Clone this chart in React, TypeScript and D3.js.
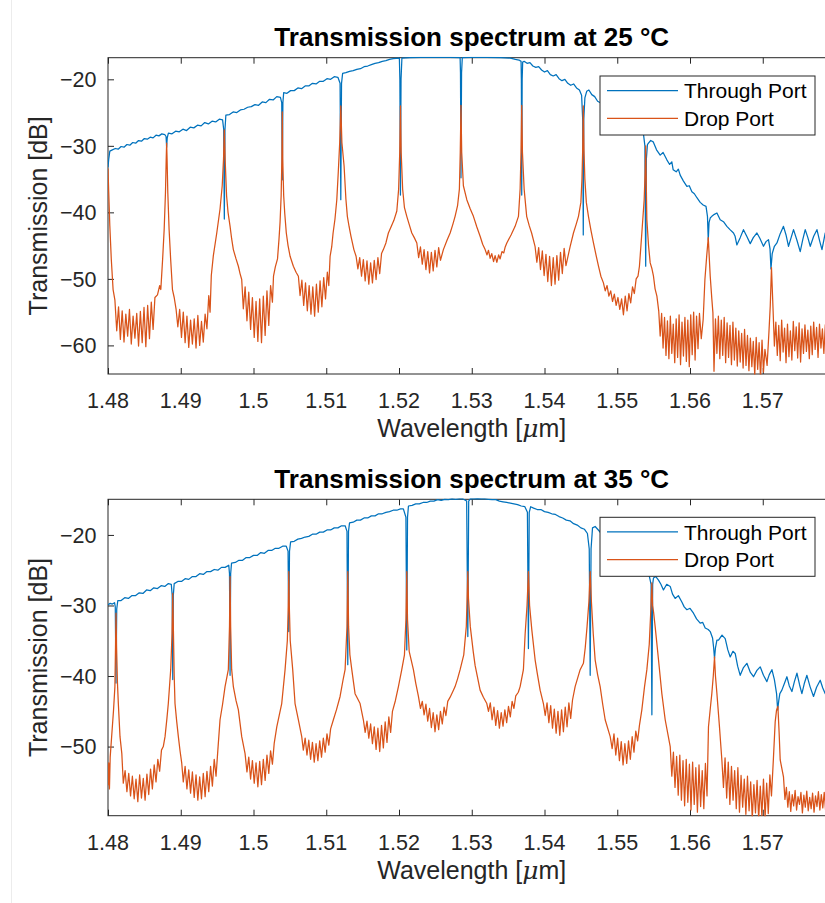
import React, { useRef, useEffect } from 'react';
import * as d3 from 'd3';

const BLUE = '#0072BD';
const ORANGE = '#D95319';
const AXIS = '#262626';
const FONT = '"Liberation Sans", Arial, Helvetica, sans-serif';

// wavelengths are stored in nm, the axis shows µm
const xTicks = [1480, 1490, 1500, 1510, 1520, 1530, 1540, 1550, 1560, 1570, 1580];
const xTickLabels = [1480, 1490, 1500, 1510, 1520, 1530, 1540, 1550, 1560, 1570]; // 1.58 lies outside the shot
const yTicks25 = [-60, -50, -40, -30, -20];
const yTicks35 = [-50, -40, -30, -20];
const legendLabels = ['Through Port', 'Drop Port'];

// ---- 25 °C ----
const through25 = [
  [1480.0,-33.2],[1480.1,-32],[1480.25,-30.8],[1480.6,-30.6],[1481.0,-30.4],[1481.4,-30.5],[1481.8,-30.1],[1482.2,-30.2],
  [1482.6,-29.8],[1483.0,-29.9],[1483.4,-29.5],[1483.8,-29.6],[1484.2,-29.2],[1484.6,-29.3],[1485.0,-28.9],[1485.4,-29.0],
  [1485.8,-28.7],[1486.2,-28.8],[1486.6,-28.4],[1487.0,-28.5],[1487.4,-28.2],[1487.8,-28.3],[1487.98,-28.6],[1488.06,-30.2],
  [1488.14,-28.8],[1488.3,-28.1],[1488.8,-28.2],[1489.3,-27.8],[1489.8,-27.9],[1490.3,-27.5],[1490.8,-27.7],[1491.3,-27.2],
  [1491.8,-27.3],[1492.3,-26.9],[1492.8,-27.0],[1493.3,-26.5],[1493.8,-26.7],[1494.3,-26.3],[1494.8,-26.4],[1495.3,-26.0],
  [1495.75,-26.1],[1495.9,-27.5],[1495.99,-41],[1496.08,-27.5],[1496.2,-25.4],[1496.7,-25.3],[1497.2,-24.9],[1497.7,-25.0],
  [1498.2,-24.6],[1498.7,-24.5],[1499.2,-24.2],[1499.7,-24.1],[1500.2,-23.8],[1500.7,-23.9],[1501.2,-23.4],[1501.7,-23.5],
  [1502.2,-23.0],[1502.7,-23.1],[1503.2,-22.6],[1503.7,-22.7],[1503.88,-23.5],[1503.96,-35.1],[1504.04,-23.5],[1504.15,-22.0],
  [1504.6,-22.1],[1505.1,-21.7],[1505.6,-21.7],[1506.1,-21.3],[1506.6,-21.4],[1507.1,-21.0],[1507.6,-21.0],[1508.1,-20.6],
  [1508.6,-20.7],[1509.1,-20.3],[1509.6,-20.3],[1510.1,-19.9],[1510.6,-20.0],[1511.1,-19.6],[1511.6,-19.7],[1511.9,-20.6],
  [1512.0,-38.1],[1512.1,-20.6],[1512.25,-19.1],[1512.7,-19.0],[1513.2,-18.8],[1513.7,-18.7],[1514.2,-18.5],[1514.7,-18.4],
  [1515.2,-18.1],[1515.7,-18.0],[1516.2,-17.8],[1516.7,-17.6],[1517.2,-17.5],[1517.7,-17.3],[1518.2,-17.2],[1518.7,-17.0],
  [1519.2,-16.9],[1519.6,-16.85],[1520.05,-16.8],[1520.12,-20],[1520.2,-37.4],[1520.28,-20],[1520.4,-16.8],[1521.5,-16.75],
  [1523.0,-16.7],[1525.0,-16.7],[1527.0,-16.7],[1528.4,-16.75],[1528.45,-19],[1528.52,-34.8],[1528.6,-19],[1528.7,-16.75],
  [1530.0,-16.7],[1532.0,-16.7],[1534.0,-16.75],[1535.3,-16.8],[1536.0,-17.0],[1536.5,-17.1],[1536.78,-17.3],[1536.82,-20],
  [1536.87,-37.4],[1536.93,-20],[1537.0,-17.4],[1537.2,-17.3],[1537.6,-17.6],[1538.0,-17.5],[1538.4,-18.0],[1538.8,-18.2],
  [1539.2,-18.1],[1539.6,-18.6],[1540.0,-18.9],[1540.4,-18.7],[1540.8,-19.3],[1541.2,-19.5],[1541.6,-19.3],[1542.0,-19.9],
  [1542.4,-20.2],[1542.8,-20.0],[1543.2,-20.6],[1543.6,-20.9],[1544.0,-20.7],[1544.4,-21.3],[1544.8,-21.6],[1545.1,-22.4],
  [1545.25,-26],[1545.33,-43.4],[1545.4,-26],[1545.55,-22.8],[1545.8,-21.8],[1546.1,-21.6],[1546.5,-22.3],[1546.9,-22.6],
  [1547.3,-23.3],[1547.8,-23.6],[1548.3,-24.2],[1548.8,-24.6],[1549.3,-25.1],[1549.8,-25.4],[1550.3,-26.0],[1550.8,-26.3],
  [1551.3,-26.8],[1551.8,-27.0],[1552.3,-27.4],[1552.8,-27.6],[1553.3,-28.0],[1553.6,-28.2],[1553.8,-30],[1553.91,-48.1],
  [1554.0,-32],[1554.15,-29.8],[1554.29,-29.6],[1554.6,-29.2],[1554.94,-29.4],[1555.4,-30.6],[1555.9,-31.4],[1556.3,-31.0],
  [1556.82,-32.1],[1557.2,-32.8],[1557.5,-32.4],[1557.69,-33.6],[1558.1,-33.9],[1558.4,-33.5],[1558.65,-34.4],[1559.1,-35.3],
  [1559.57,-36.1],[1559.9,-36.0],[1560.26,-36.9],[1560.6,-37.2],[1560.95,-37.8],[1561.4,-38.5],[1561.81,-38.9],[1562.2,-39.1],
  [1562.4,-40.6],[1562.51,-44.2],[1562.62,-41.5],[1562.8,-40.8],[1563.0,-40.6],[1563.35,-40.3],[1563.7,-40.1],[1564.15,-41.1],
  [1564.6,-41.4],[1565.07,-42.1],[1565.5,-42.6],[1565.98,-43.1],[1566.2,-43.6],[1566.44,-44.9],[1566.9,-43.8],[1567.35,-42.6],
  [1567.8,-43.6],[1568.28,-44.7],[1568.7,-43.8],[1569.2,-43.1],[1569.6,-43.9],[1570.1,-45.1],[1570.45,-44.4],[1570.79,-44.1],
  [1571.0,-45.5],[1571.13,-48.5],[1571.3,-46.2],[1571.6,-45.1],[1571.95,-44.6],[1572.4,-43.2],[1572.85,-42.1],[1573.2,-43.4],
  [1573.54,-45.1],[1573.9,-43.8],[1574.23,-42.6],[1574.7,-44.2],[1575.15,-45.9],[1575.5,-44.1],[1575.84,-42.6],[1576.2,-43.8],
  [1576.53,-45.1],[1577.0,-43.6],[1577.45,-42.6],[1577.8,-44.2],[1578.14,-45.6],[1578.59,-43.1],[1579.0,-42.8],[1579.4,-44.5],
  [1579.8,-45.4],
];

const drop25 = [
  [1480.0,-33.4],[1480.1,-37],[1480.25,-42],[1480.45,-47],[1480.7,-51.6],[1480.95,-53.2],
  [1481.2,-57.8],[1481.45,-54.2],[1481.7,-59.1],[1481.95,-54.8],[1482.2,-59.5],[1482.45,-55.3],[1482.7,-58.6],[1482.95,-54.6],
  [1483.2,-59.8],[1483.45,-55.6],[1483.7,-58.9],[1483.95,-55.2],[1484.2,-60.1],[1484.45,-54.9],[1484.7,-59.6],[1484.95,-54.3],
  [1485.2,-60.2],[1485.45,-54.0],[1485.7,-59.0],[1485.95,-53.5],[1486.2,-57.6],[1486.45,-52.8],[1486.8,-52.4],[1487.1,-51.0],
  [1487.26,-51.6],[1487.51,-47],[1487.72,-42.6],[1487.9,-37],[1488.0,-32],[1488.06,-29.6],
  [1488.12,-32],[1488.22,-37],[1488.4,-42.6],[1488.61,-47],[1488.86,-51.6],[1489.1,-52.8],[1489.35,-54.5],
  [1489.6,-57.2],[1489.85,-54.6],[1490.1,-58.8],[1490.35,-55.0],[1490.6,-59.6],[1490.85,-55.6],[1491.1,-60.3],[1491.35,-56.2],
  [1491.6,-59.8],[1491.85,-56.0],[1492.1,-60.4],[1492.35,-55.5],[1492.6,-60.0],[1492.85,-56.4],[1493.1,-59.5],[1493.35,-55.3],
  [1493.6,-57.5],[1493.85,-52.5],[1494.03,-55],[1494.2,-49.5],[1494.48,-46.5],[1494.95,-43.1],[1495.4,-39.5],[1495.7,-36],
  [1495.88,-32],[1495.99,-27.6],
  [1496.1,-32],[1496.3,-37.5],[1496.5,-40],[1496.78,-42.1],[1497.0,-44],[1497.23,-45.6],[1497.6,-47],[1497.92,-48.1],
  [1498.15,-49.2],[1498.38,-50.1],
  [1498.6,-54.5],[1498.85,-51.2],[1499.1,-56.3],[1499.35,-52.0],[1499.6,-57.6],[1499.85,-52.8],[1500.1,-58.8],[1500.35,-53.4],
  [1500.6,-59.4],[1500.85,-53.0],[1501.1,-59.6],[1501.35,-52.6],[1501.6,-58.5],[1501.85,-51.8],[1502.1,-57.0],[1502.35,-51.0],
  [1502.6,-53.5],[1502.75,-49.6],[1503.0,-48.2],[1503.3,-47],[1503.5,-44.1],[1503.65,-41.5],[1503.8,-37.5],[1503.9,-32],
  [1503.96,-24.9],
  [1504.02,-32],[1504.15,-37.5],[1504.3,-40.2],[1504.51,-43.1],[1504.75,-45],[1505.03,-46.6],[1505.48,-48.1],[1505.85,-49],
  [1506.17,-49.6],
  [1506.4,-52.5],[1506.65,-50.2],[1506.9,-54.0],[1507.15,-50.6],[1507.4,-54.8],[1507.65,-51.0],[1507.9,-55.3],[1508.15,-51.2],
  [1508.4,-55.6],[1508.65,-50.8],[1508.9,-55.0],[1509.15,-50.3],[1509.4,-54.2],[1509.65,-49.8],[1509.9,-53.0],[1510.15,-49.0],
  [1510.35,-51],[1510.53,-46.6],[1510.75,-45.2],[1510.94,-43.1],[1511.2,-41],[1511.45,-38.1],[1511.65,-34],[1511.85,-29.5],
  [1512.0,-24],
  [1512.15,-29.5],[1512.45,-33],[1512.7,-38],[1512.9,-40.6],[1513.15,-42.2],[1513.4,-43.6],[1513.8,-45.6],[1514.1,-46.6],
  [1514.35,-48.5],[1514.6,-46.8],[1514.85,-49.6],[1515.1,-47.1],[1515.35,-50.3],[1515.6,-47.3],[1515.85,-50.8],[1516.1,-47.6],
  [1516.35,-50.6],[1516.6,-47.2],[1516.85,-50.1],[1517.1,-46.8],[1517.35,-49.2],[1517.6,-46.2],
  [1517.85,-45.6],[1518.2,-44.6],[1518.54,-43.1],[1518.9,-42.2],[1519.3,-41.2],[1519.7,-39.8],[1519.95,-36.5],[1520.1,-31],
  [1520.2,-24],
  [1520.3,-31],[1520.5,-36.5],[1520.75,-39.3],[1521.07,-40.6],[1521.4,-41.8],[1521.76,-43.1],[1522.1,-43.8],[1522.45,-44.6],
  [1522.7,-46.8],[1522.95,-45.2],[1523.2,-47.8],[1523.45,-45.6],[1523.7,-48.6],[1523.95,-45.9],[1524.2,-49.1],[1524.45,-46.0],
  [1524.7,-48.8],[1524.95,-45.7],[1525.2,-48.2],[1525.45,-45.3],[1525.7,-47.2],
  [1526.1,-45.6],[1526.6,-44.2],[1527.03,-43.1],[1527.4,-41.8],[1527.71,-40.6],[1528.05,-39],[1528.3,-36.5],[1528.42,-31],
  [1528.52,-23.9],
  [1528.62,-31],[1528.85,-36],[1529.32,-38.1],[1529.8,-39.5],[1530.23,-40.6],[1530.7,-42.2],[1531.15,-43.6],[1531.5,-44.8],
  [1531.84,-45.6],[1532.1,-46.4],[1532.3,-45.7],[1532.53,-46.9],[1532.75,-46.2],[1533.0,-47.4],[1533.21,-46.5],[1533.45,-47.5],
  [1533.7,-46.4],[1533.9,-47.0],[1534.15,-45.9],[1534.4,-46.1],[1534.6,-45.2],[1534.82,-44.6],
  [1535.4,-43.4],[1535.96,-42.1],[1536.42,-40.6],[1536.65,-36.5],[1536.77,-31],[1536.87,-23.9],
  [1536.97,-31],[1537.2,-36.5],[1537.55,-40.6],[1537.9,-42],[1538.23,-43.1],[1538.7,-45.1],
  [1538.95,-47.5],[1539.2,-45.3],[1539.45,-48.6],[1539.7,-45.8],[1539.95,-49.5],[1540.2,-46.3],[1540.45,-50.4],[1540.7,-46.6],
  [1540.95,-51.0],[1541.2,-46.8],[1541.45,-50.8],[1541.7,-46.5],[1541.95,-50.2],[1542.2,-46.0],[1542.45,-49.2],[1542.7,-45.4],
  [1542.95,-48.0],
  [1543.53,-45.1],[1543.98,-43.1],[1544.35,-41.8],[1544.67,-40.6],[1545.0,-38.5],[1545.15,-35],[1545.25,-30.5],[1545.33,-24],
  [1545.42,-30.5],[1545.55,-35],[1545.75,-38.5],[1546.04,-40.6],[1546.4,-42.8],[1546.73,-44.6],[1547.1,-46.5],[1547.42,-48.1],
  [1547.75,-49.6],[1548.1,-50.6],[1548.35,-51.8],[1548.6,-51.0],[1548.85,-52.6],[1549.1,-51.8],[1549.35,-53.4],[1549.6,-52.3],
  [1549.85,-54.0],[1550.1,-52.8],[1550.35,-54.6],[1550.6,-53.0],[1550.85,-55.4],[1551.1,-52.6],[1551.35,-54.8],[1551.6,-52.2],
  [1551.85,-53.6],[1552.1,-51.2],[1552.35,-52.2],[1552.6,-50.0],[1552.85,-49.6],[1553.05,-48.1],[1553.38,-43.1],[1553.7,-38.1],
  [1553.83,-34],[1553.91,-30],
  [1553.98,-35],[1554.07,-41.1],[1554.3,-45],[1554.53,-47.6],[1554.75,-48.4],[1554.98,-49.6],[1555.2,-51.5],[1555.45,-52.6],
  [1555.7,-54.8],
  [1555.9,-58.6],[1556.1,-55.2],[1556.3,-60.4],[1556.5,-55.8],[1556.7,-61.5],[1556.9,-56.3],[1557.1,-62.0],[1557.3,-55.6],
  [1557.5,-61.2],[1557.7,-56.8],[1557.9,-62.6],[1558.1,-56.0],[1558.3,-61.8],[1558.5,-55.4],[1558.7,-62.9],[1558.9,-56.5],
  [1559.1,-61.6],[1559.3,-55.8],[1559.5,-62.4],[1559.7,-56.2],[1559.9,-63.2],[1560.1,-55.4],[1560.3,-61.4],[1560.5,-55.0],
  [1560.7,-62.2],[1560.9,-55.6],[1561.1,-60.5],[1561.3,-55.2],[1561.55,-59.0],
  [1561.81,-56.1],[1562.05,-50.1],[1562.3,-46.5],[1562.51,-43.8],[1562.78,-49.6],[1563.0,-53],[1563.15,-55.1],[1563.3,-63.9],
  [1563.5,-56.0],[1563.7,-61.2],[1563.9,-55.6],[1564.1,-62.0],[1564.3,-56.2],[1564.5,-61.5],[1564.7,-55.8],[1564.9,-62.6],
  [1565.1,-56.6],[1565.3,-61.8],[1565.5,-57.0],[1565.7,-62.9],[1565.9,-56.5],[1566.1,-62.2],[1566.3,-57.4],[1566.5,-63.1],
  [1566.7,-57.8],[1566.9,-62.5],[1567.1,-58.2],[1567.3,-63.4],[1567.5,-57.6],[1567.7,-63.0],[1567.9,-58.5],[1568.1,-63.8],
  [1568.3,-58.9],[1568.5,-63.2],[1568.7,-59.4],[1568.9,-64.5],[1569.1,-58.8],[1569.3,-63.6],[1569.5,-59.6],[1569.7,-65.0],
  [1569.9,-59.2],[1570.1,-64.0],[1570.3,-60.6],[1570.6,-63],[1570.85,-58],[1571.03,-54.1],[1571.2,-48.3],[1571.4,-54.1],
  [1571.6,-60.1],
  [1571.8,-56.5],[1572.0,-61.5],[1572.2,-57.0],[1572.4,-62.3],[1572.6,-56.2],[1572.8,-61.0],[1573.0,-57.4],[1573.2,-62.6],
  [1573.4,-56.8],[1573.6,-61.7],[1573.8,-57.8],[1574.0,-62.2],[1574.2,-56.4],[1574.4,-60.8],[1574.6,-57.2],[1574.8,-61.9],
  [1575.0,-56.6],[1575.2,-62.5],[1575.4,-57.5],[1575.6,-61.2],[1575.8,-56.9],[1576.0,-60.9],[1576.2,-57.7],[1576.4,-62.0],
  [1576.6,-57.1],[1576.8,-61.4],[1577.0,-56.5],[1577.2,-60.6],[1577.4,-57.3],[1577.6,-61.8],[1577.8,-56.8],[1578.0,-60.4],
  [1578.2,-57.5],[1578.4,-61.2],[1578.6,-56.9],[1578.8,-60.8],[1579.0,-57.4],[1579.2,-61.5],[1579.5,-57.0],[1579.8,-60.5],
];

// ---- 35 °C ----
const through35 = [
  [1480.0,-29.9],[1480.3,-29.7],[1480.6,-29.8],[1480.9,-29.6],[1481.0,-30.2],[1481.1,-41],[1481.2,-30.5],[1481.35,-29.3],
  [1481.8,-29.3],[1482.3,-28.9],[1482.8,-29.0],[1483.3,-28.6],[1483.8,-28.6],[1484.3,-28.2],[1484.8,-28.3],[1485.3,-27.8],
  [1485.8,-27.9],[1486.3,-27.5],[1486.8,-27.6],[1487.3,-27.2],[1487.8,-27.3],[1488.3,-26.9],[1488.7,-27.0],[1488.82,-28.5],
  [1488.9,-40.5],[1488.98,-28.5],[1489.1,-26.9],[1489.6,-26.6],[1490.1,-26.6],[1490.6,-26.2],[1491.1,-26.3],[1491.6,-25.9],
  [1492.1,-25.9],[1492.6,-25.5],[1493.1,-25.6],[1493.6,-25.2],[1494.1,-25.2],[1494.6,-24.9],[1495.1,-25.0],[1495.6,-24.6],
  [1496.1,-24.6],[1496.6,-24.3],[1496.7,-25.5],[1496.78,-39.9],[1496.86,-25.5],[1496.98,-24.0],[1497.5,-23.9],[1498.0,-23.6],
  [1498.5,-23.6],[1499.0,-23.2],[1499.5,-23.2],[1500.0,-22.9],[1500.5,-22.9],[1501.0,-22.5],[1501.5,-22.6],[1502.0,-22.2],
  [1502.5,-22.2],[1503.0,-21.9],[1503.5,-21.9],[1504.0,-21.6],[1504.5,-21.6],[1504.75,-22.3],[1504.85,-33.7],[1504.95,-22.3],
  [1505.1,-21.0],[1505.6,-20.9],[1506.1,-20.6],[1506.6,-20.5],[1507.1,-20.3],[1507.6,-20.2],[1508.1,-19.9],[1508.6,-19.9],
  [1509.1,-19.6],[1509.6,-19.6],[1510.1,-19.3],[1510.6,-19.3],[1511.1,-19.0],[1511.6,-19.0],[1512.1,-18.7],[1512.6,-18.7],
  [1512.85,-19.5],[1512.96,-38.4],[1513.06,-19.5],[1513.2,-18.3],[1513.7,-18.2],[1514.2,-17.9],[1514.7,-17.9],[1515.2,-17.6],
  [1515.7,-17.6],[1516.2,-17.3],[1516.7,-17.3],[1517.2,-17.0],[1517.7,-17.0],[1518.2,-16.8],[1518.7,-16.7],[1519.2,-16.5],
  [1519.7,-16.5],[1520.2,-16.3],[1520.6,-16.3],[1520.95,-17.5],[1521.07,-36.3],[1521.17,-17.5],[1521.3,-15.9],[1521.8,-15.8],
  [1522.3,-15.6],[1522.8,-15.6],[1523.3,-15.4],[1523.8,-15.4],[1524.3,-15.2],[1524.8,-15.2],[1525.3,-15.0],[1525.8,-15.1],
  [1526.3,-14.95],[1526.8,-15.0],[1527.3,-14.9],[1527.8,-14.95],[1528.3,-14.9],[1528.8,-14.9],[1529.3,-15.2],[1529.46,-34.4],
  [1529.58,-15.2],[1529.8,-14.9],[1530.3,-14.9],[1530.8,-14.85],[1531.3,-14.9],[1531.8,-14.9],[1532.3,-14.95],[1532.8,-15.0],
  [1533.3,-15.0],[1533.8,-15.2],[1534.3,-15.3],[1534.8,-15.4],[1535.3,-15.5],[1535.8,-15.6],[1536.3,-15.7],[1536.8,-15.9],
  [1537.3,-16.0],[1537.65,-16.8],[1537.79,-36.1],[1537.9,-16.8],[1538.1,-16.0],[1538.5,-16.2],[1539.0,-16.4],[1539.5,-16.4],
  [1540.0,-16.7],[1540.5,-16.8],[1541.0,-17.0],[1541.5,-17.1],[1542.0,-17.4],[1542.5,-17.6],[1543.0,-17.9],[1543.5,-18.0],
  [1544.0,-18.4],[1544.5,-18.6],[1545.0,-19.0],[1545.5,-19.2],[1545.9,-19.8],[1546.15,-22],[1546.28,-39.9],[1546.4,-22],
  [1546.6,-19.0],[1546.96,-18.8],[1547.4,-19.3],[1547.9,-19.9],[1548.4,-20.4],[1548.9,-21.0],[1549.4,-21.5],[1549.9,-22.1],
  [1550.4,-22.6],[1550.9,-23.1],[1551.4,-23.6],[1551.9,-24.1],[1552.4,-24.5],[1552.9,-24.9],[1553.4,-25.3],[1553.9,-25.6],
  [1554.4,-25.8],[1554.65,-27],[1554.76,-45.5],[1554.87,-27],[1554.98,-26.1],[1555.3,-25.9],[1555.67,-26.4],[1556.0,-27.0],
  [1556.35,-27.8],[1556.8,-27.0],[1557.28,-27.3],[1557.6,-28.4],[1557.96,-29.0],[1558.4,-28.6],[1558.88,-29.5],[1559.2,-30.2],
  [1559.57,-30.6],[1560.0,-30.4],[1560.48,-31.1],[1560.9,-31.9],[1561.4,-32.5],[1561.75,-32.4],[1562.09,-33.2],[1562.5,-33.4],
  [1562.78,-33.7],[1563.1,-34.6],[1563.25,-36],[1563.37,-37.5],[1563.5,-36],[1563.7,-34.9],[1563.92,-34.9],[1564.4,-34.2],
  [1564.84,-34.7],[1565.2,-36.3],[1565.53,-37.3],[1565.9,-36.5],[1566.21,-36.8],[1566.55,-38.6],[1566.9,-39.9],[1567.35,-38.8],
  [1567.82,-38.2],[1568.3,-39.5],[1568.73,-40.1],[1569.2,-39.2],[1569.65,-38.7],[1570.1,-39.9],[1570.57,-40.8],[1570.9,-39.8],
  [1571.26,-39.1],[1571.6,-40.5],[1571.9,-42.5],[1572.05,-44.8],[1572.2,-43.5],[1572.35,-42.5],[1572.63,-42.0],[1573.0,-41.0],
  [1573.32,-40.1],[1573.65,-41.4],[1574.01,-42.2],[1574.35,-40.8],[1574.7,-39.6],[1575.05,-41.2],[1575.38,-42.5],[1575.7,-41.1],
  [1576.07,-39.9],[1576.5,-41.5],[1576.98,-42.9],[1577.4,-41.6],[1577.9,-40.6],[1578.25,-41.7],[1578.59,-42.5],[1579.0,-41.3],
  [1579.5,-40.8],[1579.9,-42.2],
];

const drop35 = [
  [1480.0,-55.5],[1480.1,-52.3],[1480.2,-56.0],[1480.3,-51.5],[1480.5,-48.6],[1480.75,-45],[1480.95,-41.5],[1481.03,-36],
  [1481.1,-31.1],
  [1481.18,-36],[1481.3,-41],[1481.42,-43.9],[1481.65,-48.6],[1481.9,-51],
  [1482.1,-55.2],[1482.35,-53.4],[1482.6,-56.4],[1482.85,-53.8],[1483.1,-57.0],[1483.35,-54.2],[1483.6,-57.4],[1483.85,-54.6],
  [1484.1,-57.8],[1484.35,-54.0],[1484.6,-57.3],[1484.85,-54.5],[1485.1,-57.6],[1485.35,-53.9],[1485.6,-56.8],[1485.85,-53.2],
  [1486.1,-56.0],[1486.35,-52.6],[1486.6,-55.0],[1486.85,-51.8],[1487.1,-53.5],[1487.35,-50.5],
  [1487.6,-50],[1487.84,-48.6],[1488.1,-46],[1488.29,-43.9],[1488.62,-39.1],[1488.8,-34],[1488.9,-28.3],
  [1489.0,-34],[1489.1,-40],[1489.21,-43.9],[1489.45,-46.5],[1489.67,-48.6],[1489.9,-50.6],[1490.13,-52.3],
  [1490.35,-55.0],[1490.6,-52.8],[1490.85,-56.0],[1491.1,-53.3],[1491.35,-56.6],[1491.6,-53.6],[1491.85,-57.2],[1492.1,-54.0],
  [1492.35,-57.6],[1492.6,-54.3],[1492.85,-57.4],[1493.1,-53.8],[1493.35,-57.1],[1493.6,-53.5],[1493.85,-56.4],[1494.1,-52.8],
  [1494.35,-55.6],[1494.6,-51.8],[1494.85,-54.2],[1495.1,-50.5],
  [1495.4,-46.2],[1495.75,-44],[1496.09,-41.5],[1496.54,-39.1],[1496.7,-33],[1496.78,-25.9],
  [1496.86,-33],[1497.0,-39.1],[1497.23,-41.5],[1497.6,-43.5],[1497.92,-44.8],[1498.38,-48.6],[1498.84,-51],
  [1499.1,-53.6],[1499.35,-51.5],[1499.6,-54.6],[1499.85,-52.0],[1500.1,-55.2],[1500.35,-52.3],[1500.6,-55.7],[1500.85,-52.1],
  [1501.1,-55.4],[1501.35,-51.8],[1501.6,-54.8],[1501.85,-51.2],[1502.1,-53.8],[1502.35,-50.6],[1502.6,-52.5],
  [1502.85,-49.5],[1503.2,-47.2],[1503.55,-45.5],[1503.88,-43.9],[1504.34,-39.1],[1504.65,-35],[1504.78,-30],[1504.85,-25.2],
  [1504.92,-30],[1505.05,-35],[1505.39,-39.1],[1505.71,-43.9],[1506.17,-46.2],[1506.63,-48.6],
  [1506.85,-50.5],[1507.1,-48.8],[1507.35,-51.2],[1507.6,-49.1],[1507.85,-51.8],[1508.1,-49.4],[1508.35,-52.2],[1508.6,-49.6],
  [1508.85,-52.0],[1509.1,-49.2],[1509.35,-51.5],[1509.6,-48.8],[1509.85,-50.8],[1510.1,-48.2],[1510.35,-49.8],[1510.6,-47.5],
  [1510.98,-46.2],[1511.4,-44.8],[1511.9,-42.9],[1512.3,-40.6],[1512.59,-39.1],[1512.85,-33],[1512.96,-25.2],
  [1513.07,-33],[1513.25,-37],[1513.51,-39.1],[1513.96,-42.5],[1514.3,-43.2],[1514.65,-43.9],[1515.1,-46.2],
  [1515.35,-48.0],[1515.6,-46.4],[1515.85,-48.8],[1516.1,-46.8],[1516.35,-49.6],[1516.6,-47.2],[1516.85,-50.4],[1517.1,-47.4],
  [1517.35,-50.7],[1517.6,-47.0],[1517.85,-50.2],[1518.1,-46.5],[1518.35,-49.4],[1518.6,-45.8],[1518.85,-48.0],
  [1519.1,-45],[1519.5,-43.5],[1519.92,-41.5],[1520.38,-39.1],[1520.75,-37],[1520.95,-32],[1521.07,-25.2],
  [1521.17,-32],[1521.4,-36.5],[1521.98,-39.1],[1522.3,-41],[1522.67,-42.9],
  [1522.95,-44.6],[1523.2,-43.6],[1523.45,-45.5],[1523.7,-44.0],[1523.95,-46.4],[1524.2,-44.6],[1524.45,-47.3],[1524.7,-45.2],
  [1524.95,-47.9],[1525.2,-45.5],[1525.45,-47.6],[1525.7,-45.0],[1525.95,-46.8],[1526.2,-44.4],[1526.45,-45.6],[1526.7,-43.6],
  [1527.03,-43],[1527.4,-42.2],[1527.71,-41.5],[1528.05,-40.4],[1528.4,-39.1],[1528.9,-37],[1529.25,-33],[1529.46,-25.2],
  [1529.55,-29],[1529.8,-33],[1530.2,-36.5],[1530.46,-38.5],[1531.15,-42],[1531.6,-43],[1532.07,-43.9],
  [1532.3,-45.0],[1532.55,-43.8],[1532.8,-46.2],[1533.05,-44.4],[1533.3,-47.0],[1533.55,-44.9],[1533.8,-47.4],[1534.05,-45.2],
  [1534.3,-47.1],[1534.55,-44.8],[1534.8,-46.6],[1535.05,-44.3],[1535.3,-45.8],[1535.55,-43.6],[1535.8,-44.6],[1536.05,-42.8],
  [1536.4,-42.3],[1536.65,-41.5],[1537.1,-39.1],[1537.34,-34],[1537.6,-30],[1537.79,-25.2],
  [1537.95,-30],[1538.26,-33.5],[1538.71,-37.7],[1539.0,-39.6],[1539.4,-42],[1539.85,-43.9],
  [1540.1,-45.6],[1540.35,-43.8],[1540.6,-46.6],[1540.85,-44.2],[1541.1,-47.4],[1541.35,-44.7],[1541.6,-48.1],[1541.85,-45.0],
  [1542.1,-48.4],[1542.35,-44.8],[1542.6,-47.9],[1542.85,-44.4],[1543.1,-47.2],[1543.35,-43.8],[1543.6,-46.0],
  [1543.85,-43.4],[1544.21,-41.5],[1544.9,-39.1],[1545.35,-38.2],[1545.6,-36],[1545.85,-33],[1546.1,-29.5],[1546.28,-25.2],
  [1546.45,-29.5],[1546.7,-34],[1546.96,-37.7],[1547.3,-39.8],[1547.65,-41.5],[1548.0,-44],[1548.34,-46.2],[1549.03,-48.6],
  [1549.3,-50.3],[1549.55,-48.2],[1549.8,-51.2],[1550.05,-48.8],[1550.3,-52.0],[1550.55,-49.3],[1550.8,-52.6],[1551.05,-49.6],
  [1551.3,-52.4],[1551.55,-49.2],[1551.8,-51.8],[1552.05,-48.6],[1552.3,-50.8],[1552.55,-47.8],[1552.8,-49.2],
  [1553.05,-47],[1553.38,-44.8],[1553.75,-41.5],[1554.07,-39.1],[1554.4,-35.5],[1554.6,-31],[1554.76,-26.8],
  [1554.86,-30],[1555.0,-31],[1555.21,-33],[1555.67,-37.7],[1556.13,-42.5],[1556.59,-46.2],[1557.28,-50],
  [1557.5,-54.2],[1557.72,-50.8],[1557.94,-55.8],[1558.16,-51.4],[1558.38,-56.9],[1558.6,-51.2],[1558.82,-57.6],[1559.04,-52.0],
  [1559.26,-58.4],[1559.48,-51.8],[1559.7,-57.9],[1559.92,-52.5],[1560.14,-59.0],[1560.36,-52.2],[1560.58,-58.2],[1560.8,-53.0],
  [1561.02,-59.3],[1561.24,-52.6],[1561.46,-58.5],[1561.68,-53.4],[1561.9,-58.8],[1562.12,-52.4],[1562.34,-57.0],
  [1562.54,-47.2],[1562.8,-44.5],[1563.0,-42.5],[1563.2,-40],[1563.37,-37.3],[1563.5,-40],[1563.7,-42.5],[1564.05,-47.2],
  [1564.38,-51.9],
  [1564.6,-55.8],[1564.82,-51.6],[1565.04,-57.3],[1565.26,-52.2],[1565.48,-58.2],[1565.7,-52.8],[1565.92,-57.6],[1566.14,-53.4],
  [1566.36,-58.8],[1566.58,-53.0],[1566.8,-59.3],[1567.02,-54.1],[1567.24,-58.6],[1567.46,-54.6],[1567.68,-59.6],[1567.9,-54.2],
  [1568.12,-59.1],[1568.34,-55.0],[1568.56,-60.2],[1568.78,-55.4],[1569.0,-59.4],[1569.22,-54.8],[1569.44,-60.3],[1569.66,-55.6],
  [1569.88,-59.8],[1570.1,-54.6],[1570.32,-60.1],[1570.54,-55.2],[1570.76,-59.5],[1570.98,-54.0],[1571.2,-57.0],
  [1571.45,-52],[1571.71,-46.5],[1571.9,-44.8],[1572.08,-44.3],[1572.25,-48],[1572.4,-51.9],[1572.85,-54.3],
  [1573.05,-57.5],[1573.25,-55.8],[1573.45,-58.6],[1573.65,-56.4],[1573.85,-59.2],[1574.05,-56.8],[1574.25,-58.4],[1574.45,-56.2],
  [1574.65,-59.0],[1574.85,-57.1],[1575.05,-58.2],[1575.25,-56.5],[1575.45,-59.4],[1575.65,-56.9],[1575.85,-58.6],[1576.05,-56.3],
  [1576.25,-59.1],[1576.45,-57.2],[1576.65,-58.8],[1576.85,-56.6],[1577.05,-59.3],[1577.25,-57.0],[1577.45,-58.5],[1577.65,-56.4],
  [1577.85,-59.0],[1578.05,-56.8],[1578.25,-58.7],[1578.45,-56.5],[1578.65,-59.2],[1578.85,-57.3],[1579.05,-58.4],[1579.3,-56.8],
  [1579.6,-58.9],[1579.9,-57.2],
];

const panels = [
  { title: 'Transmission spectrum at 25 °C', through: through25, drop: drop25, yDomain: [-64.3, -16.75], yTicks: yTicks25,
    top: 57.7, bottom: 374, titleY: 46, tickY: 408, xlabelY: 437, legendTop: 76 },
  { title: 'Transmission spectrum at 35 °C', through: through35, drop: drop35, yDomain: [-59.8, -14.95], yTicks: yTicks35,
    top: 499.3, bottom: 815.7, titleY: 488, tickY: 850, xlabelY: 879, legendTop: 517.3 },
];

const W = 825;
const H = 903;
const LEFT = 108;
const RIGHT = 835.5;

const App = () => {
  const ref = useRef<SVGSVGElement>(null);

  useEffect(() => {
    const svg = d3.select(ref.current);
    svg.selectAll('*').remove();

    // faint frame line of the original screenshot
    svg.append('line').attr('x1', 11.5).attr('x2', 11.5).attr('y1', 0).attr('y2', H)
      .attr('stroke', '#ececec').attr('stroke-width', 1);

    const x = d3.scaleLinear().domain([1480, 1580]).range([LEFT, RIGHT]);

    panels.forEach((p, i) => {
      const y = d3.scaleLinear().domain(p.yDomain).range([p.bottom, p.top]);
      const g = svg.append('g');

      // box
      g.append('rect').attr('x', LEFT).attr('y', p.top)
        .attr('width', RIGHT - LEFT).attr('height', p.bottom - p.top)
        .attr('fill', 'white').attr('stroke', AXIS).attr('stroke-width', 1);

      // ticks (inward, all sides)
      const bottomAxis = g.append('g').attr('transform', `translate(0,${p.bottom})`)
        .call(d3.axisBottom(x).tickValues(xTicks).tickSize(-6).tickFormat(() => ''));
      const topAxis = g.append('g').attr('transform', `translate(0,${p.top})`)
        .call(d3.axisTop(x).tickValues(xTicks).tickSize(-6).tickFormat(() => ''));
      const leftAxis = g.append('g').attr('transform', `translate(${LEFT},0)`)
        .call(d3.axisLeft(y).tickValues(p.yTicks).tickSize(-6).tickFormat(() => ''));
      [bottomAxis, topAxis, leftAxis].forEach(a => {
        a.select('.domain').remove();
        a.selectAll('line').attr('stroke', AXIS).attr('stroke-width', 1);
      });

      // tick labels
      g.selectAll('.xt').data(xTickLabels).enter().append('text')
        .attr('x', d => x(d)).attr('y', p.tickY)
        .attr('text-anchor', 'middle')
        .attr('font-family', FONT).attr('font-size', 21.5).attr('fill', AXIS)
        .text(d => String(d / 1000));
      g.selectAll('.yt').data(p.yTicks).enter().append('text')
        .attr('x', LEFT - 11.5).attr('y', d => y(d)).attr('dy', '0.36em')
        .attr('text-anchor', 'end')
        .attr('font-family', FONT).attr('font-size', 21.5).attr('fill', AXIS)
        .text(d => String(d).replace('-', '\u2212'));

      // data
      const clipId = `plot-clip-${i}`;
      svg.append('clipPath').attr('id', clipId).append('rect')
        .attr('x', LEFT).attr('y', p.top - 1).attr('width', RIGHT - LEFT).attr('height', p.bottom - p.top + 1.5);
      const line = d3.line<number[]>().x(d => x(d[0])).y(d => y(d[1]));
      const plot = g.append('g').attr('clip-path', `url(#${clipId})`);
      plot.append('path').datum(p.through).attr('d', line)
        .attr('fill', 'none').attr('stroke', BLUE).attr('stroke-width', 1.25).attr('stroke-linejoin', 'round');
      plot.append('path').datum(p.drop).attr('d', line)
        .attr('fill', 'none').attr('stroke', ORANGE).attr('stroke-width', 1.25).attr('stroke-linejoin', 'round');

      // title and axis labels
      const cx = (LEFT + RIGHT) / 2;
      g.append('text').attr('x', cx).attr('y', p.titleY).attr('text-anchor', 'middle')
        .attr('font-family', FONT).attr('font-size', 26).attr('font-weight', 'bold').attr('fill', '#000')
        .text(p.title);
      const xl = g.append('text').attr('x', cx).attr('y', p.xlabelY).attr('text-anchor', 'middle')
        .attr('font-family', FONT).attr('font-size', 25).attr('fill', AXIS);
      xl.append('tspan').text('Wavelength [');
      xl.append('tspan').attr('font-style', 'italic').attr('font-family', '"DejaVu Serif", serif').text('\u03bc');
      xl.append('tspan').text('m]');
      g.append('text')
        .attr('transform', `translate(46.5,${(p.top + p.bottom) / 2}) rotate(-90)`)
        .attr('text-anchor', 'middle')
        .attr('font-family', FONT).attr('font-size', 25).attr('fill', AXIS)
        .text('Transmission [dB]');

      // legend
      const lg = g.append('g').attr('transform', `translate(600,${p.legendTop})`);
      lg.append('rect').attr('width', 215).attr('height', 59)
        .attr('fill', 'white').attr('stroke', AXIS).attr('stroke-width', 1);
      legendLabels.forEach((label, k) => {
        const ry = 14.7 + k * 27.6;
        lg.append('line').attr('x1', 7).attr('x2', 78).attr('y1', ry).attr('y2', ry)
          .attr('stroke', k === 0 ? BLUE : ORANGE).attr('stroke-width', 1.25);
        lg.append('text').attr('x', 84).attr('y', ry + 7.6)
          .attr('font-family', FONT).attr('font-size', 21).attr('fill', '#000')
          .text(label);
      });
    });
  }, []);

  return (
    <svg ref={ref} width={W} height={H}
      style={{ position: 'absolute', left: 0, top: 0, background: 'white' }} />
  );
};

export default App;
